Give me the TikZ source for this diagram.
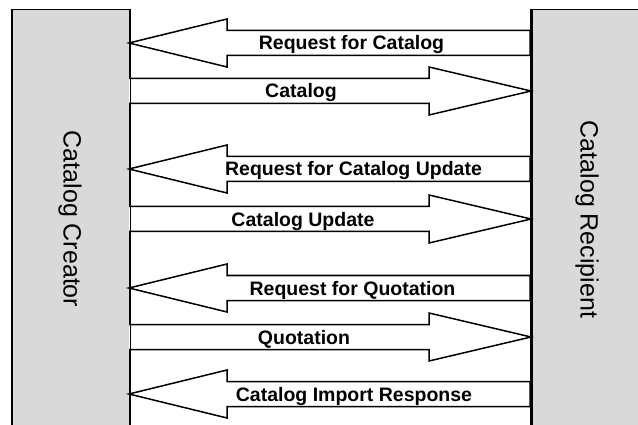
\documentclass[tikz,border=0pt]{standalone}
\usepackage{fontspec}
\setmainfont{Liberation Sans}
\newcommand\msgleft[4]{% name, centre y, label x, text
  \draw[blockarrow] (530,#2-12.5) -- (227,#2-12.5) -- (227,#2-24) -- (129,#2)
    -- (227,#2+24) -- (227,#2+12.5) -- (530,#2+12.5) -- cycle;
  \node[msg] (#1) at (#3,#2+7) {#4};
}
\newcommand\msgright[4]{% name, centre y, label x, text
  \draw[blockarrow] (129,#2-12.5) -- (429,#2-12.5) -- (429,#2-24) -- (531,#2)
    -- (429,#2+24) -- (429,#2+12.5) -- (129,#2+12.5);
  \node[msg] (#1) at (#3,#2+7) {#4};
}
\begin{document}
\begin{tikzpicture}[x=1pt,y=-1pt,
  party/.style={draw=black, line width=1.5pt, fill=gray!30, inner sep=0pt, anchor=north west},
  edge/.style={draw=black, line width=1.5pt},
  blockarrow/.style={draw=black, line width=1.5pt, fill=white, line join=miter},
  msg/.style={font=\bfseries\fontsize{19.5}{20}\selectfont, anchor=base, inner sep=0pt},
  plabel/.style={font=\fontsize{25}{26}\selectfont, rotate=-90, inner sep=0pt}]
\useasboundingbox (0,0) rectangle (638,425);
\node[party, minimum width=118pt, minimum height=440pt] (creator) at (11,9) {};
\node[party, minimum width=120pt, minimum height=440pt] (recipient) at (531,9) {};
\node[plabel] (creatorlabel) at (70,219) {Catalog Creator};
\node[plabel] (recipientlabel) at (587,219.5) {Catalog Recipient};
\msgleft{m1}{43}{351.5}{Request for Catalog}
\msgright{m2}{91}{301}{Catalog}
\msgleft{m3}{169}{353.5}{Request for Catalog Update}
\msgright{m4}{219}{303}{Catalog Update}
\msgleft{m5}{288}{352.5}{Request for Quotation}
\msgright{m6}{337}{304}{Quotation}
\msgleft{m7}{394}{354}{Catalog Import Response}
\draw[edge] (creator.north east) -- (creator.south east);
\draw[edge] (recipient.north west) -- (recipient.south west);
\end{tikzpicture}
\end{document}
